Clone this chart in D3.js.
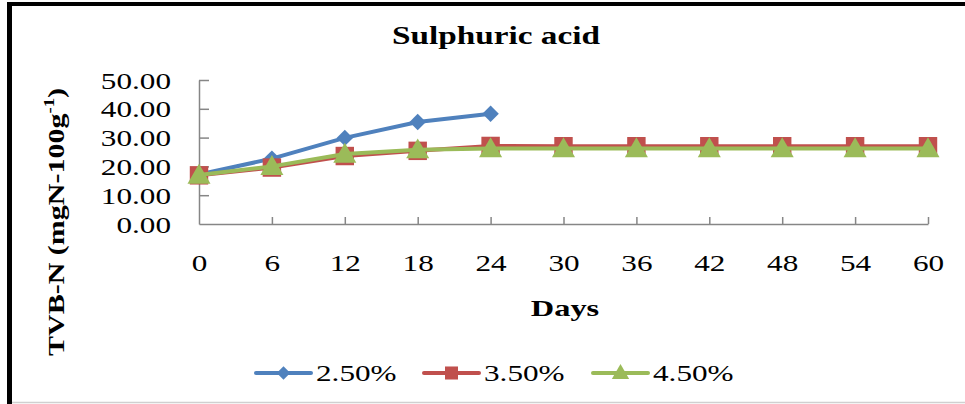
<!DOCTYPE html>
<html>
<head>
<meta charset="utf-8">
<script src="https://cdn.jsdelivr.net/npm/d3@7"></script>
<style>
  body { margin: 0; background: #fff; }
  svg text { font-family: "Liberation Serif", "Times New Roman", serif; fill: #000; }
</style>
</head>
<body>
<div id="chart"></div>
<script>
// data
let days = [0, 6, 12, 18, 24, 30, 36, 42, 48, 54, 60];
let yTicks = [0, 10, 20, 30, 40, 50];
let acid250 = [17.2, 22.7, 29.9, 35.4, 38.3];
let acid350 = [16.9, 19.6, 23.6, 25.4, 27.1, 27.0, 27.0, 27.0, 27.0, 27.0, 27.0];
let acid450 = [17.0, 20.0, 24.3, 25.8, 26.2, 26.2, 26.2, 26.2, 26.2, 26.2, 26.2];
let seriesNames = ["2.50%", "3.50%", "4.50%"];
let seriesColors = ["#4F81BD", "#C0504D", "#9BBB59"];

let width = 965, height = 404;
let stretch = 1.3; // the original glyphs are wider than Times

let svg = d3.select("#chart").append("svg")
  .attr("width", width)
  .attr("height", height);

// frame
svg.append("line").attr("x1", 7).attr("x2", width).attr("y1", 4).attr("y2", 4)
  .attr("stroke", "#000").attr("stroke-width", 4);
svg.append("line").attr("x1", 9.5).attr("x2", 9.5).attr("y1", 2).attr("y2", height)
  .attr("stroke", "#000").attr("stroke-width", 5);
svg.append("line").attr("x1", 12).attr("x2", width).attr("y1", 402.5).attr("y2", 402.5)
  .attr("stroke", "#d0d0d0").attr("stroke-width", 1.5);

// scales
let x = d3.scaleLinear().domain([0, 60]).range([199, 928]);
let y = d3.scaleLinear().domain([0, 50]).range([224, 80]);

// axes
let yAxis = d3.axisLeft(y).tickValues(yTicks).tickSizeInner(-10).tickSizeOuter(0)
  .tickFormat(d3.format(".2f"));
let xAxis = d3.axisBottom(x).tickValues(days).tickSizeInner(-7).tickSizeOuter(0);

let gy = svg.append("g").attr("transform", "translate(199,0)").call(yAxis);
let gx = svg.append("g").attr("transform", "translate(0,224)").call(xAxis);

[gx, gy].forEach(g => {
  g.select(".domain").attr("stroke", "#868686").attr("stroke-width", 1.5);
  g.selectAll(".tick line").attr("stroke", "#868686").attr("stroke-width", 1.5);
  g.selectAll(".tick text").attr("font-size", 24).attr("font-family", "Liberation Serif, serif").attr("fill", "#000");
});
gy.selectAll(".tick text")
  .attr("x", 0).attr("dy", "0.34em")
  .attr("transform", `translate(-28,0) scale(${stretch},1)`);
gy.selectAll(".tick line").filter(d => d === 0).remove();
gx.selectAll(".tick text")
  .attr("y", 0).attr("dy", "0.34em")
  .attr("transform", `translate(0,39) scale(${stretch},1)`);
gx.selectAll(".tick line").filter(d => d === 0).remove();

// titles
svg.append("text")
  .attr("transform", `translate(496,44) scale(1.28,1)`)
  .attr("text-anchor", "middle")
  .attr("font-size", 26).attr("font-weight", "bold")
  .text("Sulphuric acid");

svg.append("text")
  .attr("transform", `translate(565,316) scale(1.35,1)`)
  .attr("text-anchor", "middle")
  .attr("font-size", 24).attr("font-weight", "bold")
  .text("Days");

let yTitle = svg.append("text")
  .attr("transform", `translate(64,222) rotate(-90) scale(1.25,1)`)
  .attr("text-anchor", "middle")
  .attr("font-size", 24).attr("font-weight", "bold");
yTitle.append("tspan").text("TVB-N (mgN-100g");
yTitle.append("tspan").attr("font-size", 15).attr("dy", -10).text("-1");
yTitle.append("tspan").attr("dy", 10).text(")");

// series
let allSeries = [acid250, acid350, acid450].map((vals, i) => ({
  name: seriesNames[i],
  color: seriesColors[i],
  values: vals.map((v, j) => ({ day: days[j], value: v }))
}));

let line = d3.line().x(d => x(d.day)).y(d => y(d.value));
// diamond = square turned 45 degrees
let symbols = [d3.symbolSquare, d3.symbolSquare, d3.symbolTriangle];
let rotations = [45, 0, 0];
let symbolSizes = [135, 340, 230];

allSeries.forEach((s, i) => {
  let g = svg.append("g");
  g.append("path")
    .datum(s.values)
    .attr("fill", "none")
    .attr("stroke", s.color)
    .attr("stroke-width", 4)
    .attr("stroke-linejoin", "round")
    .attr("d", line);
  g.selectAll(".pt")
    .data(s.values)
    .enter()
    .append("path")
    .attr("class", "pt")
    .attr("transform", d => `translate(${x(d.day)},${y(d.value) + (i === 2 ? 2 : 0)}) rotate(${rotations[i]})`)
    .attr("d", d3.symbol().type(symbols[i]).size(symbolSizes[i]))
    .attr("fill", s.color);
});

// legend
let legendX = [256, 424, 593];
let legend = svg.append("g").attr("transform", "translate(0,373)");
allSeries.forEach((s, i) => {
  let lg = legend.append("g").attr("transform", `translate(${legendX[i]},0)`);
  lg.append("line").attr("x1", 0).attr("x2", 55).attr("y1", 0).attr("y2", 0)
    .attr("stroke", s.color).attr("stroke-width", 4).attr("stroke-linecap", "round");
  lg.append("path")
    .attr("transform", `translate(27.5,${i === 2 ? 1 : 0}) rotate(${rotations[i]})`)
    .attr("d", d3.symbol().type(symbols[i]).size([90, 170, 130][i]))
    .attr("fill", s.color);
  lg.append("text")
    .attr("transform", `translate(60,0) scale(${stretch},1)`)
    .attr("dy", "0.34em")
    .attr("font-size", 24)
    .text(s.name);
});
</script>
</body>
</html>
